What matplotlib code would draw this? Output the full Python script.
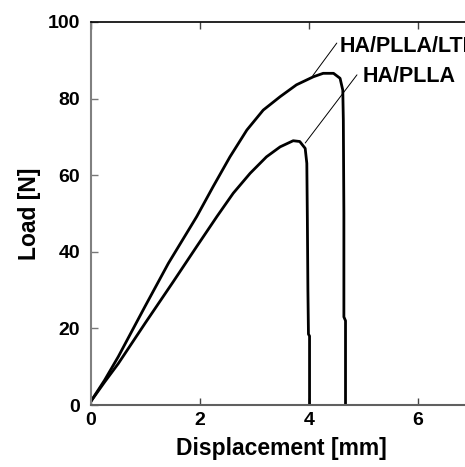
import matplotlib
matplotlib.use("Agg")
import matplotlib.pyplot as plt

plt.rcParams['font.family'] = ['Liberation Sans', 'DejaVu Sans']
plt.rcParams['font.weight'] = 'bold'

# HA/PLLA/LTI curve (displacement mm, load N)
lti_x = [0, 0.25, 0.5, 0.99, 1.42, 1.94, 2.24, 2.55, 2.86, 3.16, 3.47, 3.77,
         4.08, 4.26, 4.45, 4.57, 4.62, 4.63, 4.64, 4.64, 4.67, 4.67]
lti_y = [1, 6.5, 12.6, 25.7, 37, 49.2, 57, 64.8, 71.8, 77, 80.5, 83.6,
         85.7, 86.6, 86.6, 85.3, 82.2, 74.4, 50, 23, 22, 0]

# HA/PLLA curve
pl_x = [0, 0.25, 0.5, 1.0, 1.5, 1.95, 2.31, 2.61, 2.92, 3.22, 3.47, 3.71,
        3.83, 3.93, 3.96, 3.97, 3.98, 3.99, 4.01, 4.01]
pl_y = [1, 6, 10.8, 21.5, 32, 41.6, 49.2, 55.3, 60.5, 64.8, 67.4, 69,
        68.8, 67, 63.1, 48.3, 30, 18.5, 18, 0]

labels = ["HA/PLLA/LTI", "HA/PLLA"]
label_pos = [(4.57, 92.2), (4.99, 84.3)]
leader_from = [(4.07, 86.0), (3.93, 68.4)]
leader_to = [(4.51, 94.5), (4.88, 86.2)]

x_ticks = [0, 2, 4, 6]
y_ticks = [0, 20, 40, 60, 80, 100]

fig = plt.figure(figsize=(4.65, 4.67), dpi=100)
W, H = 465, 467
ax = fig.add_axes([91 / W, 62 / H, (472.5 - 91) / W, (405 - 22) / H])

ax.plot(lti_x, lti_y, color='black', lw=2.0, solid_joinstyle='round')
ax.plot(pl_x, pl_y, color='black', lw=2.0, solid_joinstyle='round')

for lab, pos, a, b in zip(labels, label_pos, leader_from, leader_to):
    ax.annotate('', xy=a, xytext=b,
                arrowprops=dict(arrowstyle='-', lw=0.7, color='black',
                                shrinkA=0, shrinkB=0))
    ax.text(pos[0], pos[1], lab, fontsize=15.5, fontweight='bold',
            ha='left', va='baseline', clip_on=False)

ax.set_xlim(0, 7)
ax.set_ylim(0, 100)
ax.set_xticks(x_ticks)
ax.set_yticks(y_ticks)
ax.tick_params(axis='both', direction='in', length=5, width=1, labelsize=14)
ax.tick_params(axis='x', top=True, pad=5, colors='#444444', labelcolor='black')
ax.tick_params(axis='y', pad=8, colors='#777777', labelcolor='black')
for lbl in ax.get_xticklabels() + ax.get_yticklabels():
    lbl.set_fontweight('bold')

ax.spines['left'].set_color('#808080')
ax.spines['left'].set_linewidth(1.5)
ax.spines['bottom'].set_color('#606060')
ax.spines['bottom'].set_linewidth(1.5)
ax.spines['top'].set_color('black')
ax.spines['top'].set_linewidth(1.2)
ax.spines['right'].set_visible(False)

ax.set_xlabel('Displacement [mm]', fontsize=16.5, fontweight='bold', labelpad=6)
ax.set_ylabel('Load [N]', fontsize=16.5, fontweight='bold', labelpad=5)

fig.savefig('out.png', dpi=100)
